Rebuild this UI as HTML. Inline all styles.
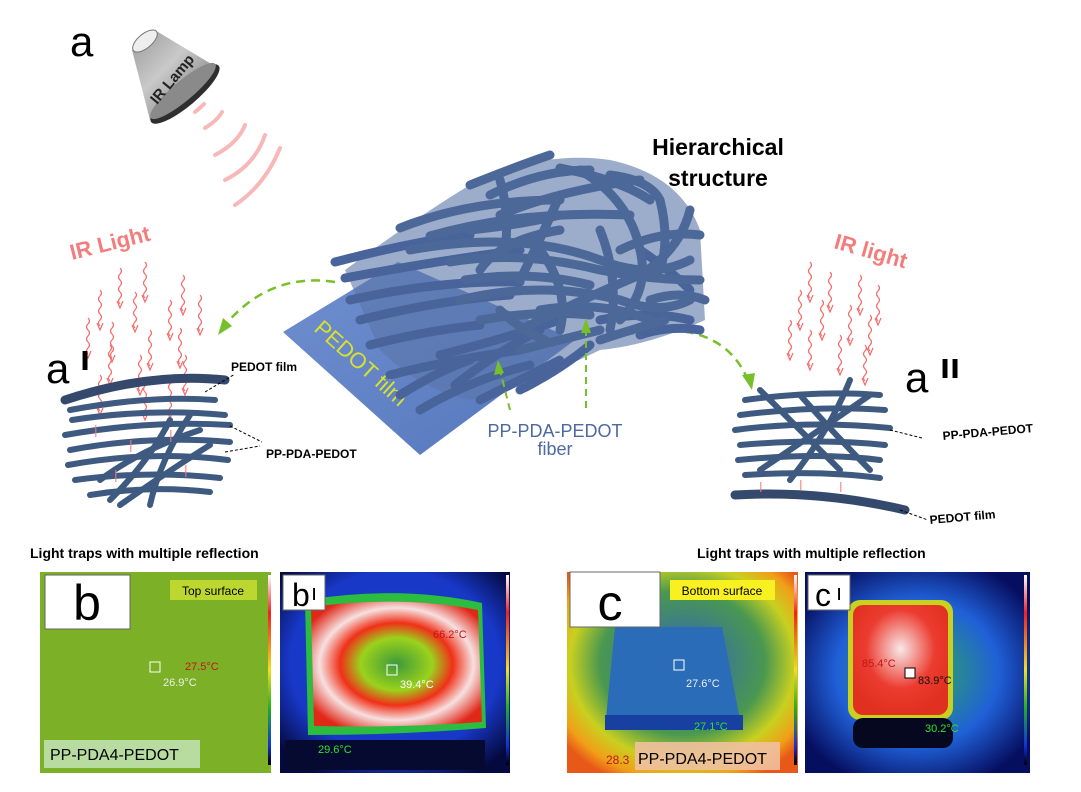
<!DOCTYPE html>
<html><head><meta charset="utf-8"><style>
body{margin:0;background:#fff;width:1081px;height:792px;overflow:hidden}
svg{display:block}
text{font-family:"Liberation Sans",sans-serif}
</style></head><body>
<svg width="1081" height="792" viewBox="0 0 1081 792">
<defs>
<symbol id="w" overflow="visible"><path d="M0 0 q3 3 0 6 q-3 3 0 6 q3 3 0 6 q-3 3 0 6 q3 3 0 6 q-3 3 0 6" fill="none" stroke="#f56a6a" stroke-width="1.2"/><path d="M-3 33 L0 40 L3 33" fill="none" stroke="#f56a6a" stroke-width="1.2"/></symbol>
<linearGradient id="lamp" x1="0" y1="0" x2="1" y2="1"><stop offset="0" stop-color="#9a9a9a"/><stop offset=".4" stop-color="#c9c9c9"/><stop offset="1" stop-color="#606060"/></linearGradient>
<linearGradient id="film" x1="0" y1="0" x2="1" y2="1"><stop offset="0" stop-color="#6f8fd0"/><stop offset="1" stop-color="#5577bb"/></linearGradient>
<radialGradient id="bp" cx=".5" cy=".5" r=".6"><stop offset="0" stop-color="#3c9a3a"/><stop offset=".35" stop-color="#9bd21c"/><stop offset=".55" stop-color="#f03018"/><stop offset=".75" stop-color="#f6e0e0"/><stop offset="1" stop-color="#e02818"/></radialGradient>
<radialGradient id="cp" cx=".5" cy=".4" r=".6"><stop offset="0" stop-color="#f8e8e8"/><stop offset=".6" stop-color="#ec3c30"/><stop offset="1" stop-color="#e03020"/></radialGradient>
<radialGradient id="cbg" cx=".5" cy=".45" r=".65"><stop offset="0" stop-color="#3060c0"/><stop offset=".55" stop-color="#4a9850"/><stop offset=".75" stop-color="#c8d020"/><stop offset=".9" stop-color="#f0a018"/><stop offset="1" stop-color="#e85818"/></radialGradient>
<radialGradient id="b2bg" cx=".5" cy=".45" r=".65"><stop offset="0" stop-color="#1840c8"/><stop offset=".7" stop-color="#1838c8"/><stop offset="1" stop-color="#040a40"/></radialGradient>
<radialGradient id="c2bg" cx=".5" cy=".5" r=".6"><stop offset="0" stop-color="#30b050"/><stop offset=".6" stop-color="#2060d8"/><stop offset="1" stop-color="#060e60"/></radialGradient>
<linearGradient id="cbar" x1="0" y1="0" x2="0" y2="1"><stop offset="0" stop-color="#fff"/><stop offset=".2" stop-color="#f02020"/><stop offset=".5" stop-color="#f0e020"/><stop offset=".7" stop-color="#20b020"/><stop offset=".9" stop-color="#1030e0"/><stop offset="1" stop-color="#000"/></linearGradient>
</defs>

<text x="70" y="56" font-size="42">a</text>
<!-- lamp -->
<path d="M132 50 L158 32 L218 68 L150 120 Z" fill="url(#lamp)"/>
<ellipse cx="185" cy="94" rx="44" ry="12" transform="rotate(-40 185 94)" fill="#2e2e2e"/>
<ellipse cx="183" cy="91" rx="42" ry="10" transform="rotate(-40 183 91)" fill="#8a8a8a"/>
<ellipse cx="145" cy="41" rx="15" ry="7" transform="rotate(-40 145 41)" fill="#eee" stroke="#777"/>
<text font-size="15" font-weight="bold" fill="#222" transform="translate(157 105) rotate(-50)">IR Lamp</text>
<g fill="none" stroke="#f8b8b8" stroke-width="4" stroke-linecap="round">
<path d="M195 112 Q200 108 204 104"/>
<path d="M205 128 Q218 120 222 112"/>
<path d="M215 155 Q238 143 245 125"/>
<path d="M225 180 Q255 165 265 135"/>
<path d="M235 205 Q265 185 280 148"/>
</g>
<text font-size="22" font-weight="bold" fill="#f47c7c" transform="translate(72 260) rotate(-14)">IR Light</text>
<g>
<use href="#w" x="120" y="268"/><use href="#w" x="145" y="262"/><use href="#w" x="183" y="275"/>
<use href="#w" x="100" y="290"/><use href="#w" x="135" y="292"/><use href="#w" x="170" y="300"/><use href="#w" x="200" y="295"/>
<use href="#w" x="88" y="318"/><use href="#w" x="112" y="322"/><use href="#w" x="150" y="330"/><use href="#w" x="180" y="328"/>
<use href="#w" x="110" y="345"/><use href="#w" x="140" y="355"/><use href="#w" x="185" y="355"/>
<use href="#w" x="100" y="375"/><use href="#w" x="145" y="380"/><use href="#w" x="170" y="378"/>
</g>
<text x="46" y="383" font-size="42">a</text><text x="80" y="370" font-size="36" font-weight="bold">ı</text>
<g fill="none" stroke="#3f5a80" stroke-linecap="round">
<path d="M65 400 Q150 372 225 380" stroke-width="9" stroke="#34496c"/>
<g stroke-width="6">
<path d="M70 410 Q150 395 215 400"/><path d="M72 420 Q150 408 225 415"/>
<path d="M65 435 Q150 420 230 425"/><path d="M70 450 Q150 435 230 442"/>
<path d="M68 465 Q150 450 228 460"/><path d="M75 480 Q150 470 220 478"/>
<path d="M90 495 Q150 485 210 492"/>
<path d="M110 500 Q150 460 170 420"/><path d="M150 505 Q160 460 190 415"/>
<path d="M100 480 Q140 450 200 430"/><path d="M120 505 Q170 470 210 445"/>
</g></g>
<g fill="#f47c7c" opacity=".7"><rect x="95" y="425" width="1.5" height="12"/><rect x="130" y="440" width="1.5" height="12"/><rect x="170" y="430" width="1.5" height="12"/><rect x="115" y="470" width="1.5" height="12"/><rect x="185" y="465" width="1.5" height="12"/></g>
<g stroke="#000" stroke-dasharray="3 2" fill="none" stroke-width="1">
<path d="M205 392 L235 374"/><path d="M230 426 L262 442"/><path d="M225 452 L260 446"/>
</g>
<text x="231" y="371" font-size="12" font-weight="bold">PEDOT film</text>
<text x="266" y="458" font-size="12" font-weight="bold">PP-PDA-PEDOT</text>

<path d="M335 282 Q270 272 225 325" fill="none" stroke="#78c02a" stroke-width="2.5" stroke-dasharray="9 6"/>
<path d="M218 335 L223 318 L232 326 Z" fill="#78c02a"/>
<path d="M625 335 Q720 315 748 380" fill="none" stroke="#78c02a" stroke-width="2.5" stroke-dasharray="9 6"/>
<path d="M752 390 L742 375 L755 373 Z" fill="#78c02a"/>

<path d="M283 332 L398 262 L575 340 L420 455 Z" fill="url(#film)"/>
<text font-size="22" fill="#d8e030" transform="translate(313 330) rotate(42)">PEDOT film</text>
<path d="M345 270 Q420 215 470 185 Q540 150 610 160 Q680 175 700 230 L705 320 Q650 345 600 350 Q540 380 470 400 Q420 390 380 350 Z" fill="#5a75a8" opacity=".6"/>
<g fill="none" stroke="#4b6899" stroke-linecap="round">
<g stroke-width="9" stroke="#48649a" stroke-dasharray="4 1">
<path d="M335 262 Q420 240 470 235"/><path d="M345 278 Q430 262 520 250"/>
<path d="M350 300 Q440 280 520 282"/><path d="M360 320 Q440 300 510 295"/>
<path d="M370 345 Q430 330 480 325"/><path d="M390 375 Q450 360 520 350"/>
<path d="M420 410 Q470 380 530 365"/><path d="M455 385 Q500 350 540 330"/>
<path d="M440 355 Q500 340 560 320"/><path d="M400 395 Q440 370 470 360"/>
<path d="M480 400 Q520 380 560 360"/><path d="M520 390 Q560 370 590 345"/>
<path d="M640 250 Q670 270 690 290"/><path d="M600 320 Q650 310 690 320"/>
<path d="M640 335 Q670 325 700 330"/>
</g>
<g stroke-width="9">
<path d="M470 185 Q520 165 550 155"/><path d="M490 195 Q540 170 590 170"/>
<path d="M400 228 Q470 200 560 200"/><path d="M430 236 Q520 210 630 215"/>
<path d="M410 250 Q520 230 600 260 Q650 280 690 260"/>
<path d="M500 215 Q560 190 640 180"/><path d="M560 168 Q620 180 650 200"/>
<path d="M580 170 Q630 200 640 250 Q650 290 620 320"/>
<path d="M610 175 Q650 180 660 200 Q670 240 660 270"/>
<path d="M450 262 Q520 250 600 270 Q650 280 700 280"/>
<path d="M460 300 Q540 280 620 300 Q660 315 690 300"/>
<path d="M520 330 Q580 300 640 275 Q680 250 690 210"/>
<path d="M480 270 Q500 240 560 230"/><path d="M540 250 Q570 290 560 330"/>
<path d="M600 230 Q620 280 610 330"/><path d="M520 350 Q560 340 600 330"/>
<path d="M540 310 Q600 300 650 320"/><path d="M600 340 Q630 330 665 320"/>
<path d="M500 310 Q520 330 545 340"/><path d="M620 250 Q660 230 700 235"/>
<path d="M500 180 Q510 215 505 250"/><path d="M560 195 Q540 240 520 280"/>
<path d="M465 280 Q530 270 590 285"/><path d="M480 320 Q540 310 590 315"/>
<path d="M650 300 Q680 290 705 300"/><path d="M470 230 Q520 225 560 215"/>
</g></g>
<g stroke="#78c02a" stroke-width="2" stroke-dasharray="7 5" fill="none"><path d="M510 410 L500 370"/><path d="M586 408 L586 325"/></g>
<path d="M498 360 L494 375 L504 373 Z M586 318 L581 333 L591 333 Z" fill="#78c02a"/>
<text x="555" y="437" font-size="18" fill="#4d6aa0" text-anchor="middle">PP-PDA-PEDOT</text>
<text x="555" y="455" font-size="18" fill="#4d6aa0" text-anchor="middle">fiber</text>

<text x="718" y="155" font-size="23" font-weight="bold" text-anchor="middle">Hierarchical</text>
<text x="718" y="186" font-size="23" font-weight="bold" text-anchor="middle">structure</text>

<text font-size="22" font-weight="bold" fill="#f47c7c" transform="translate(833 248) rotate(16)">IR light</text>
<g>
<use href="#w" x="810" y="262"/><use href="#w" x="830" y="272"/><use href="#w" x="860" y="275"/><use href="#w" x="878" y="285"/>
<use href="#w" x="800" y="290"/><use href="#w" x="822" y="300"/><use href="#w" x="850" y="305"/><use href="#w" x="870" y="315"/>
<use href="#w" x="790" y="320"/><use href="#w" x="810" y="330"/><use href="#w" x="840" y="335"/><use href="#w" x="865" y="345"/>
</g>
<text x="905" y="392" font-size="42">a</text><text x="940" y="378" font-size="36" font-weight="bold">ıı</text>
<g fill="none" stroke="#3f5a80" stroke-linecap="round" stroke-width="6">
<path d="M745 400 Q820 390 880 395"/><path d="M740 415 Q820 405 885 410"/>
<path d="M735 430 Q810 420 890 428"/><path d="M740 445 Q820 438 885 445"/>
<path d="M738 460 Q820 452 880 460"/><path d="M745 475 Q820 470 880 478"/>
<path d="M760 390 Q800 430 840 470"/><path d="M800 395 Q840 440 870 470"/>
<path d="M760 470 Q820 430 870 395"/><path d="M850 380 Q830 430 790 480"/>
<path d="M735 495 Q820 490 905 510" stroke-width="9" stroke="#34496c"/>
</g>
<g fill="#f47c7c" opacity=".7"><rect x="760" y="482" width="1.5" height="10"/><rect x="800" y="480" width="1.5" height="10"/><rect x="840" y="482" width="1.5" height="10"/></g>
<g stroke="#000" stroke-dasharray="3 2" fill="none"><path d="M890 430 L922 438"/><path d="M900 510 L928 520"/></g>
<text font-size="12" font-weight="bold" transform="translate(943 440) rotate(-5)">PP-PDA-PEDOT</text>
<text font-size="12" font-weight="bold" transform="translate(930 524) rotate(-5)">PEDOT film</text>

<text x="30" y="558" font-size="14" font-weight="bold">Light traps with multiple reflection</text>
<text x="697" y="558" font-size="14" font-weight="bold">Light traps with multiple reflection</text>

<rect x="40" y="572" width="231" height="201" fill="#7cb026"/>
<rect x="268" y="575" width="3" height="190" fill="url(#cbar)"/>
<rect x="45" y="575" width="85" height="54" fill="#fff" stroke="#666"/>
<text x="87" y="620" font-size="50" text-anchor="middle">b</text>
<rect x="170" y="580" width="87" height="20" fill="#bcd830"/>
<text x="213" y="595" font-size="12" text-anchor="middle">Top surface</text>
<text x="163" y="686" font-size="11" fill="#eee">26.9°C</text>
<text x="185" y="670" font-size="11" fill="#c01818">27.5°C</text>
<rect x="150" y="662" width="10" height="10" fill="none" stroke="#fff"/>
<rect x="44" y="740" width="156" height="28" fill="#b8dca0"/>
<text x="50" y="760" font-size="16">PP-PDA4-PEDOT</text>
<rect x="280" y="572" width="230" height="201" fill="url(#b2bg)"/>
<path d="M305 600 Q400 585 482 603 L486 728 Q400 735 308 735 Z" fill="#2cbc40"/>
<path d="M311 607 Q400 595 478 610 L482 722 Q400 728 314 726 Z" fill="url(#bp)"/>
<rect x="285" y="740" width="200" height="30" fill="#060a30"/>
<rect x="506" y="575" width="3" height="190" fill="url(#cbar)"/>
<rect x="283" y="575" width="42" height="35" fill="#fff" stroke="#666"/>
<text x="292" y="606" font-size="32">b</text><text x="311" y="600" font-size="22">ı</text>
<text x="433" y="638" font-size="11" fill="#c01818">66.2°C</text>
<text x="400" y="688" font-size="11" fill="#fff">39.4°C</text>
<text x="318" y="753" font-size="11" fill="#30e030">29.6°C</text>
<rect x="387" y="665" width="10" height="10" fill="none" stroke="#fff"/>
<rect x="567" y="572" width="231" height="201" fill="url(#cbg)"/>
<path d="M615 627 L722 627 L742 730 L605 728 Z" fill="#2a6cb8"/>
<rect x="605" y="715" width="138" height="15" fill="#1840a0"/>
<rect x="794" y="575" width="3" height="190" fill="url(#cbar)"/>
<rect x="570" y="572" width="90" height="55" fill="#fff" stroke="#666"/>
<text x="610" y="620" font-size="50" text-anchor="middle">c</text>
<rect x="670" y="580" width="105" height="20" fill="#f8f020"/>
<text x="722" y="595" font-size="12" text-anchor="middle">Bottom surface</text>
<text x="686" y="687" font-size="11" fill="#eee">27.6°C</text>
<text x="694" y="730" font-size="11" fill="#30e030">27.1°C</text>
<rect x="674" y="660" width="10" height="10" fill="none" stroke="#fff"/>
<rect x="635" y="742" width="145" height="28" fill="#f0c0a0" opacity=".9"/>
<text x="606" y="764" font-size="12" fill="#c01818">28.3</text>
<text x="638" y="764" font-size="16">PP-PDA4-PEDOT</text>
<rect x="805" y="572" width="225" height="201" fill="url(#c2bg)"/>
<rect x="848" y="600" width="105" height="120" rx="12" fill="#c8d020"/>
<rect x="853" y="605" width="95" height="110" rx="10" fill="url(#cp)"/>
<rect x="853" y="718" width="100" height="30" rx="10" fill="#060820"/>
<rect x="1024" y="575" width="3" height="190" fill="url(#cbar)"/>
<rect x="808" y="575" width="42" height="35" fill="#fff" stroke="#666"/>
<text x="815" y="606" font-size="32">c</text><text x="836" y="600" font-size="22">ı</text>
<text x="862" y="667" font-size="11" fill="#c01818">85.4°C</text>
<text x="918" y="684" font-size="11" fill="#111">83.9°C</text>
<text x="925" y="732" font-size="11" fill="#30e030">30.2°C</text>
<rect x="905" y="668" width="10" height="10" fill="#fff" stroke="#000"/>
</svg>
</body></html>
